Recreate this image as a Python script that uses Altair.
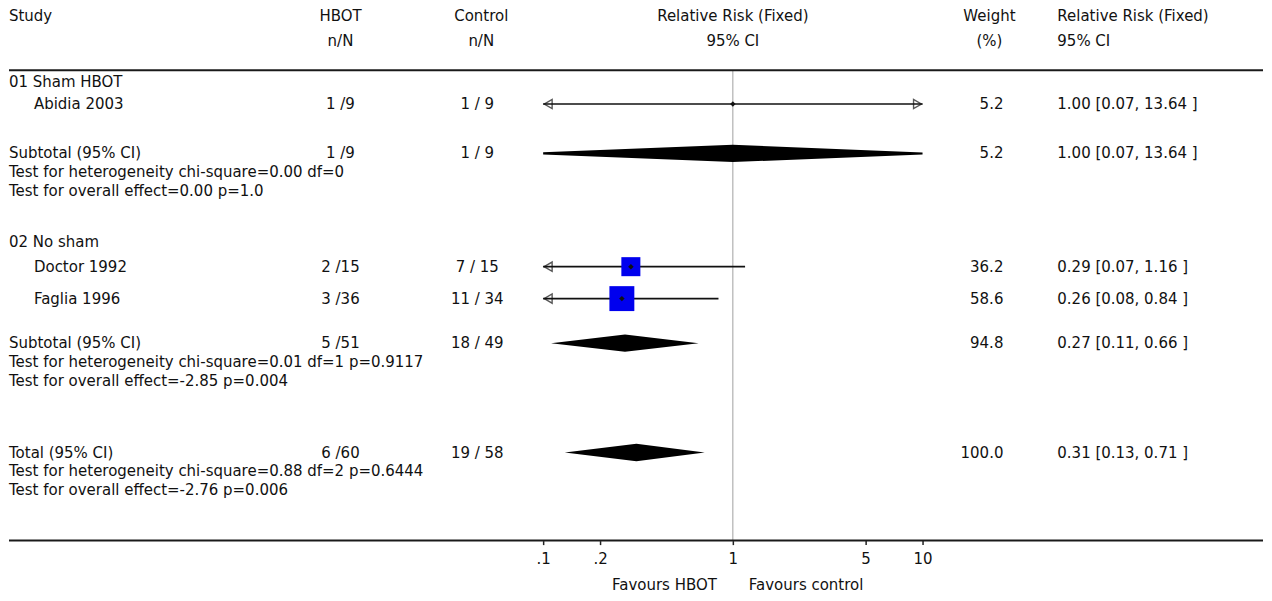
import math
import altair as alt
import pandas as pd

FONT = "DejaVu Sans"
FS = 15

# ---------------- data ----------------
study_names = ["Abidia 2003", "Doctor 1992", "Faglia 1996"]
hbot_events = [1, 2, 3]
hbot_total = [9, 15, 36]
ctrl_events = [1, 7, 11]
ctrl_total = [9, 15, 34]
study_rr = [1.00, 0.29, 0.26]
study_lo = [0.07, 0.07, 0.08]
study_hi = [13.64, 1.16, 0.84]
study_weight = [5.2, 36.2, 58.6]

group_titles = ["01 Sham HBOT", "02 No sham"]

pool_labels = ["Subtotal (95% CI)", "Subtotal (95% CI)", "Total (95% CI)"]
pool_hbot_events = [1, 5, 6]
pool_hbot_total = [9, 51, 60]
pool_ctrl_events = [1, 18, 19]
pool_ctrl_total = [9, 49, 58]
pool_rr = [1.00, 0.27, 0.31]
pool_lo = [0.07, 0.11, 0.13]
pool_hi = [13.64, 0.66, 0.71]
pool_weight = [5.2, 94.8, 100.0]
het_texts = [
    "Test for heterogeneity chi-square=0.00 df=0",
    "Test for heterogeneity chi-square=0.01 df=1 p=0.9117",
    "Test for heterogeneity chi-square=0.88 df=2 p=0.6444",
]
effect_texts = [
    "Test for overall effect=0.00 p=1.0",
    "Test for overall effect=-2.85 p=0.004",
    "Test for overall effect=-2.76 p=0.006",
]

header_top = ["Study", "HBOT", "Control", "Relative Risk (Fixed)", "Weight", "Relative Risk (Fixed)"]
header_bottom = ["", "n/N", "n/N", "95% CI", "(%)", "95% CI"]
favours = ["Favours HBOT", "Favours control"]

tick_values = [0.1, 0.2, 1, 5, 10]
tick_labels = [".1", ".2", "1", "5", "10"]
axis_min, axis_max = 0.1, 10

# row layout (line numbers in the table)
header_lines = [0, 1.3]
top_rule_line = 2.8
group_lines = [3.4, 11.7]
study_lines = [4.55, 12.95, 14.6]
pool_lines = [7.1, 16.9, 22.55]
stat_step = 0.97
bottom_rule_line = 27.1
favours_line = 29.37

# ---------------- scales ----------------
xscale = alt.Scale(type="log", domain=[axis_min, axis_max], range=[535, 915])
yscale = alt.Scale(domain=[0, bottom_rule_line], range=[7.5, 533])

label_expr = "''"
for v, l in reversed(list(zip(tick_values, tick_labels))):
    label_expr = f"datum.value == {v} ? '{l}' : ({label_expr})"

xaxis = alt.Axis(values=tick_values, labelExpr=label_expr, domain=False, grid=False,
                 ticks=True, tickSize=4, tickColor="#222", tickWidth=1.5,
                 labelFont=FONT, labelFontSize=FS, labelColor="#111",
                 labelPadding=7, title=None, orient="bottom",
                 labelFlush=False, labelOverlap=False)


def X(field):
    return alt.X(f"{field}:Q", scale=xscale, axis=xaxis)


def Y(field):
    return alt.Y(f"{field}:Q", scale=yscale, axis=None)


def text_layer(df, x, align):
    return alt.Chart(df).mark_text(align=align, baseline="middle", font=FONT,
                                   fontSize=FS, color="#111").encode(
        x=alt.value(x), y=Y("line"), text="text:N")


# ---------------- tables ----------------
name_rows, indent_rows, hbot_rows, ctrl_rows, ctrlh_rows = [], [], [], [], []
weight_rows, weighth_rows, rrtxt_rows, forest_head = [], [], [], []

name_rows.append({"line": header_lines[0], "text": header_top[0]})
hbot_rows += [{"line": header_lines[0], "text": header_top[1]},
              {"line": header_lines[1], "text": header_bottom[1]}]
ctrlh_rows += [{"line": header_lines[0], "text": header_top[2]},
               {"line": header_lines[1], "text": header_bottom[2]}]
forest_head += [{"rr": 1, "line": header_lines[0], "text": header_top[3]},
                {"rr": 1, "line": header_lines[1], "text": header_bottom[3]}]
weighth_rows += [{"line": header_lines[0], "text": header_top[4]},
                 {"line": header_lines[1], "text": header_bottom[4]}]
rrtxt_rows += [{"line": header_lines[0], "text": header_top[5]},
               {"line": header_lines[1], "text": header_bottom[5]}]

for t, ln in zip(group_titles, group_lines):
    name_rows.append({"line": ln, "text": t})

for i, ln in enumerate(study_lines):
    indent_rows.append({"line": ln, "text": study_names[i]})
    hbot_rows.append({"line": ln, "text": f"{hbot_events[i]} /{hbot_total[i]}"})
    ctrl_rows.append({"line": ln, "text": f"{ctrl_events[i]} / {ctrl_total[i]}"})
    weight_rows.append({"line": ln, "text": f"{study_weight[i]:.1f}"})
    rrtxt_rows.append({"line": ln, "text": f"{study_rr[i]:.2f} [{study_lo[i]:.2f}, {study_hi[i]:.2f} ]"})

for i, ln in enumerate(pool_lines):
    name_rows.append({"line": ln, "text": pool_labels[i]})
    name_rows.append({"line": ln + stat_step, "text": het_texts[i]})
    name_rows.append({"line": ln + 2 * stat_step, "text": effect_texts[i]})
    hbot_rows.append({"line": ln, "text": f"{pool_hbot_events[i]} /{pool_hbot_total[i]}"})
    ctrl_rows.append({"line": ln, "text": f"{pool_ctrl_events[i]} / {pool_ctrl_total[i]}"})
    weight_rows.append({"line": ln, "text": f"{pool_weight[i]:.1f}"})
    rrtxt_rows.append({"line": ln, "text": f"{pool_rr[i]:.2f} [{pool_lo[i]:.2f}, {pool_hi[i]:.2f} ]"})

# ---------------- forest geometry ----------------
ci_df = pd.DataFrame({
    "line": study_lines,
    "lo_c": [max(v, axis_min) for v in study_lo],
    "hi_c": [min(v, axis_max) for v in study_hi],
})
left_arrows = pd.DataFrame({"line": [l for l, v in zip(study_lines, study_lo) if v < axis_min],
                            "rr": [axis_min for v in study_lo if v < axis_min]})
right_arrows = pd.DataFrame({"line": [l for l, v in zip(study_lines, study_hi) if v > axis_max],
                             "rr": [axis_max for v in study_hi if v > axis_max]})
box_df = pd.DataFrame({"line": study_lines, "rr": study_rr, "weight": study_weight})

half_h = 0.45
dia = []
for i, ln in enumerate(pool_lines):
    est, lo, hi = pool_rr[i], pool_lo[i], pool_hi[i]
    if lo < axis_min:
        xl = axis_min
        hl = half_h * (math.log10(axis_min) - math.log10(lo)) / (math.log10(est) - math.log10(lo))
    else:
        xl, hl = lo, 0.0
    if hi > axis_max:
        xr = axis_max
        hr = half_h * (math.log10(hi) - math.log10(axis_max)) / (math.log10(hi) - math.log10(est))
    else:
        xr, hr = hi, 0.0
    for xv, hv in [(xl, hl), (est, half_h), (xr, hr)]:
        dia.append({"id": i, "x": xv, "top": ln - hv, "bot": ln + hv})
dia_df = pd.DataFrame(dia)

rules_df = pd.DataFrame({"line": [top_rule_line, bottom_rule_line]})
null_df = pd.DataFrame({"rr": [1], "y1": [top_rule_line], "y2": [bottom_rule_line]})
fav_left = pd.DataFrame({"rr": [1], "line": [favours_line], "text": [favours[0]]})
fav_right = pd.DataFrame({"rr": [1], "line": [favours_line], "text": [favours[1]]})

layers = []
layers.append(alt.Chart(null_df).mark_rule(color="#a0a0a0", strokeWidth=1).encode(
    x=X("rr"), y=Y("y1"), y2="y2"))
layers.append(alt.Chart(rules_df).mark_rule(color="#1a1a1a", strokeWidth=2).encode(y=Y("line")))
layers.append(alt.Chart(ci_df).mark_rule(color="#111", strokeWidth=1.6).encode(
    x=X("lo_c"), x2="hi_c", y=Y("line")))
layers.append(alt.Chart(left_arrows).mark_point(shape="triangle-left", filled=False, size=85,
                                                color="#111", strokeWidth=1.4, xOffset=5).encode(
    x=X("rr"), y=Y("line")))
layers.append(alt.Chart(right_arrows).mark_point(shape="triangle-right", filled=False, size=85,
                                                 color="#111", strokeWidth=1.4, xOffset=-5).encode(
    x=X("rr"), y=Y("line")))
layers.append(alt.Chart(box_df).mark_square(color="#0000ee", opacity=1).encode(
    x=X("rr"), y=Y("line"),
    size=alt.Size("weight:Q", scale=alt.Scale(domain=[5, 60], range=[0, 640]), legend=None)))
layers.append(alt.Chart(box_df).mark_point(shape="diamond", filled=True, size=30, color="#111",
                                           opacity=1).encode(x=X("rr"), y=Y("line")))
layers.append(alt.Chart(dia_df).mark_area(color="black", orient="vertical", interpolate="linear").encode(
    x=X("x"), y=Y("top"), y2="bot", detail="id:N"))

layers.append(text_layer(pd.DataFrame(name_rows), 0, "left"))
layers.append(text_layer(pd.DataFrame(indent_rows), 25, "left"))
layers.append(text_layer(pd.DataFrame(hbot_rows), 332, "center"))
layers.append(text_layer(pd.DataFrame(ctrl_rows), 469, "center"))
layers.append(text_layer(pd.DataFrame(ctrlh_rows), 473, "center"))
layers.append(text_layer(pd.DataFrame(weight_rows), 996, "right"))
layers.append(text_layer(pd.DataFrame(weighth_rows), 982, "center"))
layers.append(text_layer(pd.DataFrame(rrtxt_rows), 1050, "left"))
layers.append(alt.Chart(pd.DataFrame(forest_head)).mark_text(
    align="center", baseline="middle", font=FONT, fontSize=FS, color="#111").encode(
    x=X("rr"), y=Y("line"), text="text:N"))
layers.append(alt.Chart(fav_left).mark_text(
    align="right", dx=-16, baseline="middle", font=FONT, fontSize=FS, color="#111").encode(
    x=X("rr"), y=Y("line"), text="text:N"))
layers.append(alt.Chart(fav_right).mark_text(
    align="left", dx=16, baseline="middle", font=FONT, fontSize=FS, color="#111").encode(
    x=X("rr"), y=Y("line"), text="text:N"))

chart = alt.layer(*layers).properties(width=1256, height=533, padding=0,
                                      background="white").configure_view(stroke=None)
chart.save("out.html", embed_options={"renderer": "svg", "actions": False})
